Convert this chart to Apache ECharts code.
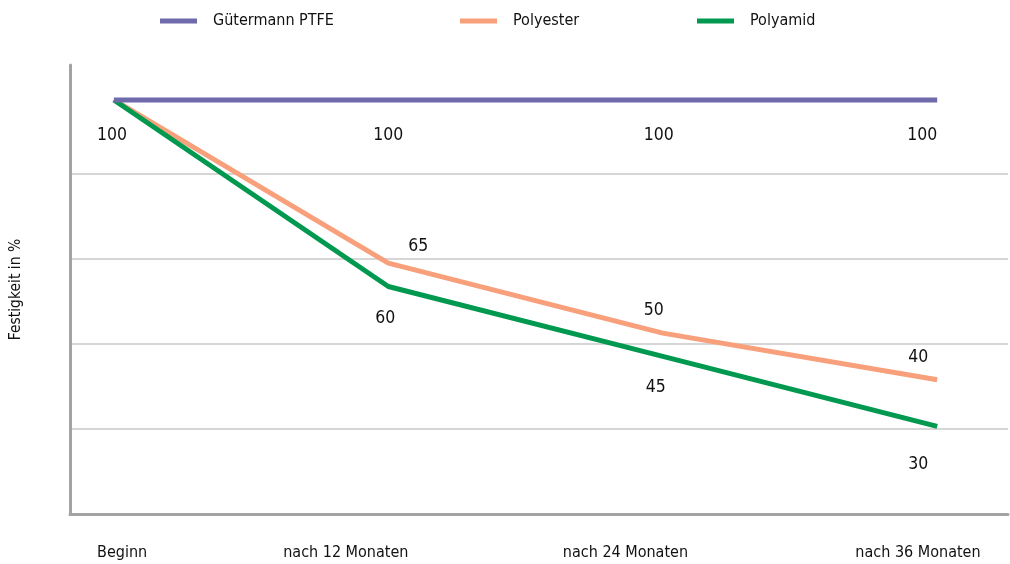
<!DOCTYPE html>
<html>
<head>
<meta charset="utf-8">
<script src="https://cdn.jsdelivr.net/npm/echarts@6/dist/echarts.min.js"></script>
<style>
html,body{margin:0;padding:0;background:#fff;}
#chart{width:1010px;height:564px;}
</style>
</head>
<body>
<div id="chart"></div>
<script>
const categories = ['Beginn', 'nach 12 Monaten', 'nach 24 Monaten', 'nach 36 Monaten'];
const seriesNames = ['Gütermann PTFE', 'Polyester', 'Polyamid'];
const ptfeValues = [100, 100, 100, 100];
const polyesterValues = [100, 65, 50, 40];
const polyamidValues = [100, 60, 45, 30];
const yAxisTitle = 'Festigkeit in %';

const FONT = '"Liberation Sans Narrow", "DejaVu Sans Condensed", "Roboto", sans-serif';
const colors = ['#6e6aab', '#f7a07b', '#00994f'];

// label placement (style only)
const labelStyle = {
  ptfe: { pos: 'bottom', dist: 26, off: [[-2, 0], [0, 0], [-4, 0], [-15, 0]] },
  polyester: { pos: 'top', dist: 8, off: [[0, 0], [30, 0], [-9, -6], [-19, -5]] },
  polyamid: { pos: 'bottom', dist: 8, off: [[0, 0], [-3, 15], [-7, 14], [-19, 21]] }
};

function buildData(values, style, hideFirst) {
  return values.map((v, i) => ({
    value: [i, v],
    label: {
      show: !(hideFirst && i === 0),
      position: style.pos,
      distance: style.dist,
      offset: style.off[i]
    }
  }));
}

const chart = echarts.init(document.getElementById('chart'), null, { renderer: 'canvas' });

function legendFor(name, left) {
  return {
    data: [name],
    left: left,
    top: 13,
    padding: 0,
    icon: 'rect',
    itemWidth: 37,
    itemHeight: 5,
    selectedMode: false,
    textStyle: { fontFamily: FONT, fontSize: 16, color: '#111', padding: [0, 0, 0, 11] }
  };
}

function lineSeries(name, color, values, style, hideFirst, z) {
  return {
    name: name,
    type: 'line',
    yAxisIndex: 0,
    data: buildData(values, style, hideFirst),
    symbol: 'circle',
    symbolSize: 0,
    showSymbol: true,
    itemStyle: { color: color },
    lineStyle: { width: 5, color: color, cap: 'butt' },
    label: { show: true, fontFamily: FONT, fontSize: 17.5, color: '#111' },
    z: z
  };
}

const option = {
  backgroundColor: '#fff',
  animation: false,
  legend: [
    legendFor(seriesNames[0], 160),
    legendFor(seriesNames[1], 460),
    legendFor(seriesNames[2], 697)
  ],
  grid: { left: 68, right: 2, top: 65, bottom: 50, containLabel: false },
  xAxis: {
    type: 'value',
    min: -0.16,
    max: 3.258,
    axisLine: { show: true, lineStyle: { color: '#a3a3a6', width: 3 } },
    axisTick: { show: false },
    splitLine: { show: false },
    axisLabel: {
      customValues: [0.03, 0.845, 1.864, 2.93],
      formatter: function (v) { return categories[Math.round(v)]; },
      margin: 31,
      fontFamily: FONT,
      fontSize: 16,
      color: '#111'
    }
  },
  yAxis: [
    {
      type: 'value',
      min: 11.2,
      max: 107.5,
      position: 'left',
      name: yAxisTitle,
      nameLocation: 'middle',
      nameRotate: 90,
      nameGap: 46,
      nameTextStyle: { fontFamily: FONT, fontSize: 15.5, color: '#111' },
      axisLine: { show: true, onZero: false, lineStyle: { color: '#a3a3a6', width: 3 } },
      axisTick: { show: false },
      axisLabel: { show: false },
      splitLine: { show: false }
    },
    {
      type: 'value',
      min: 0,
      max: 5.28,
      interval: 1,
      position: 'left',
      axisLine: { show: false },
      axisTick: { show: false },
      axisLabel: { show: false },
      splitLine: {
        show: true,
        showMinLine: false,
        showMaxLine: false,
        lineStyle: { color: ['#c9c9c9', '#c9c9c9', '#c9c9c9', '#c9c9c9', 'rgba(0,0,0,0)'], width: 1.5 }
      }
    }
  ],
  series: [
    lineSeries(seriesNames[1], colors[1], polyesterValues, labelStyle.polyester, true, 2),
    lineSeries(seriesNames[2], colors[2], polyamidValues, labelStyle.polyamid, true, 3),
    lineSeries(seriesNames[0], colors[0], ptfeValues, labelStyle.ptfe, false, 4)
  ]
};

chart.setOption(option);
</script>
</body>
</html>
